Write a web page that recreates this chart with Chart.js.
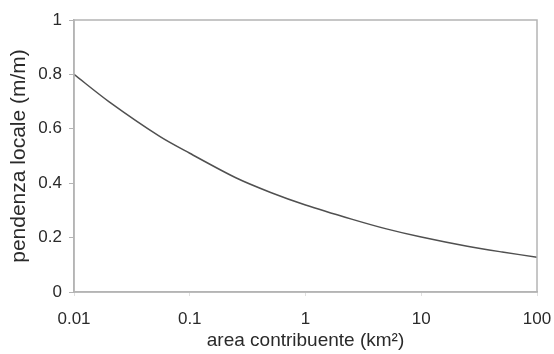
<!DOCTYPE html>
<html>
<head>
<meta charset="utf-8">
<script src="https://cdn.jsdelivr.net/npm/chart.js@4"></script>
<style>
  html, body { margin: 0; padding: 0; background: #fff; }
  #wrap { width: 554px; height: 354px; }
</style>
</head>
<body>
<div id="wrap"><canvas id="chart"></canvas></div>
<script>
// values
const areaKm2 = [0.01, 0.02, 0.055, 0.1, 0.25, 0.5, 1, 2.5, 5, 10, 25, 50, 100];
const slope = [0.80, 0.70, 0.572, 0.51, 0.42, 0.366, 0.32, 0.268, 0.232, 0.202, 0.168, 0.147, 0.128];
const xTicks = [0.01, 0.1, 1, 10, 100];
const xTickLabels = ["0.01", "0.1", "1", "10", "100"];
const yTicks = [0, 0.2, 0.4, 0.6, 0.8, 1];
const yTickLabels = ["0", "0.2", "0.4", "0.6", "0.8", "1"];

const FONT = "'Liberation Sans', Arial, sans-serif";
const TEXT = "#2a2a2a";
const AXIS = "#b4b4b4";

// gray box round the plot area
const frame = {
  id: "frame",
  afterDraw(chart) {
    const { ctx, chartArea: a } = chart;
    ctx.save();
    ctx.strokeStyle = AXIS;
    ctx.lineWidth = 1.5;
    ctx.strokeRect(a.left, a.top, a.right - a.left, a.bottom - a.top);
    ctx.restore();
  },
};

const points = areaKm2.map((a, i) => ({ x: a, y: slope[i] }));

new Chart(document.getElementById("chart"), {
  type: "scatter",
  data: {
    datasets: [{
      data: points,
      showLine: true,
      borderColor: "#505050",
      borderWidth: 1.5,
      pointRadius: 0,
      tension: 0.3,
    }],
  },
  options: {
    responsive: true,
    maintainAspectRatio: false,
    animation: false,
    layout: { padding: { top: 20, right: 0, left: 7, bottom: 2 } },
    plugins: { legend: { display: false }, tooltip: { enabled: false } },
    scales: {
      x: {
        type: "logarithmic",
        min: 0.01,
        max: 100,
        afterBuildTicks(s) { s.ticks = xTicks.map((v) => ({ value: v })); },
        afterFit(s) { s.height = 60; s.paddingRight = 17; s.paddingLeft = 0; },
        ticks: {
          color: TEXT,
          font: { family: FONT, size: 17 },
          padding: 13,
          maxRotation: 0,
          callback: (v) => xTickLabels[xTicks.indexOf(v)] ?? "",
        },
        grid: { drawOnChartArea: false, tickLength: 4, color: "#e0e0e0" },
        border: { color: AXIS, width: 1.5 },
        title: {
          display: true,
          text: "area contribuente (km²)",
          color: TEXT,
          font: { family: FONT, size: 19 },
          padding: { top: 0, bottom: 0 },
        },
      },
      y: {
        min: 0,
        max: 1,
        afterBuildTicks(s) { s.ticks = yTicks.map((v) => ({ value: v })); },
        afterFit(s) { s.width = 67; s.paddingTop = 0; s.paddingBottom = 0; },
        ticks: {
          color: TEXT,
          font: { family: FONT, size: 17 },
          padding: 7,
          callback: (v) => yTickLabels[yTicks.indexOf(v)] ?? "",
        },
        grid: { drawOnChartArea: false, tickLength: 5, color: AXIS },
        border: { color: AXIS, width: 1.5 },
        title: {
          display: true,
          text: "pendenza locale (m/m)",
          color: TEXT,
          font: { family: FONT, size: 21 },
          padding: { top: 0, bottom: 0 },
        },
      },
    },
  },
  plugins: [frame],
});
</script>
</body>
</html>
